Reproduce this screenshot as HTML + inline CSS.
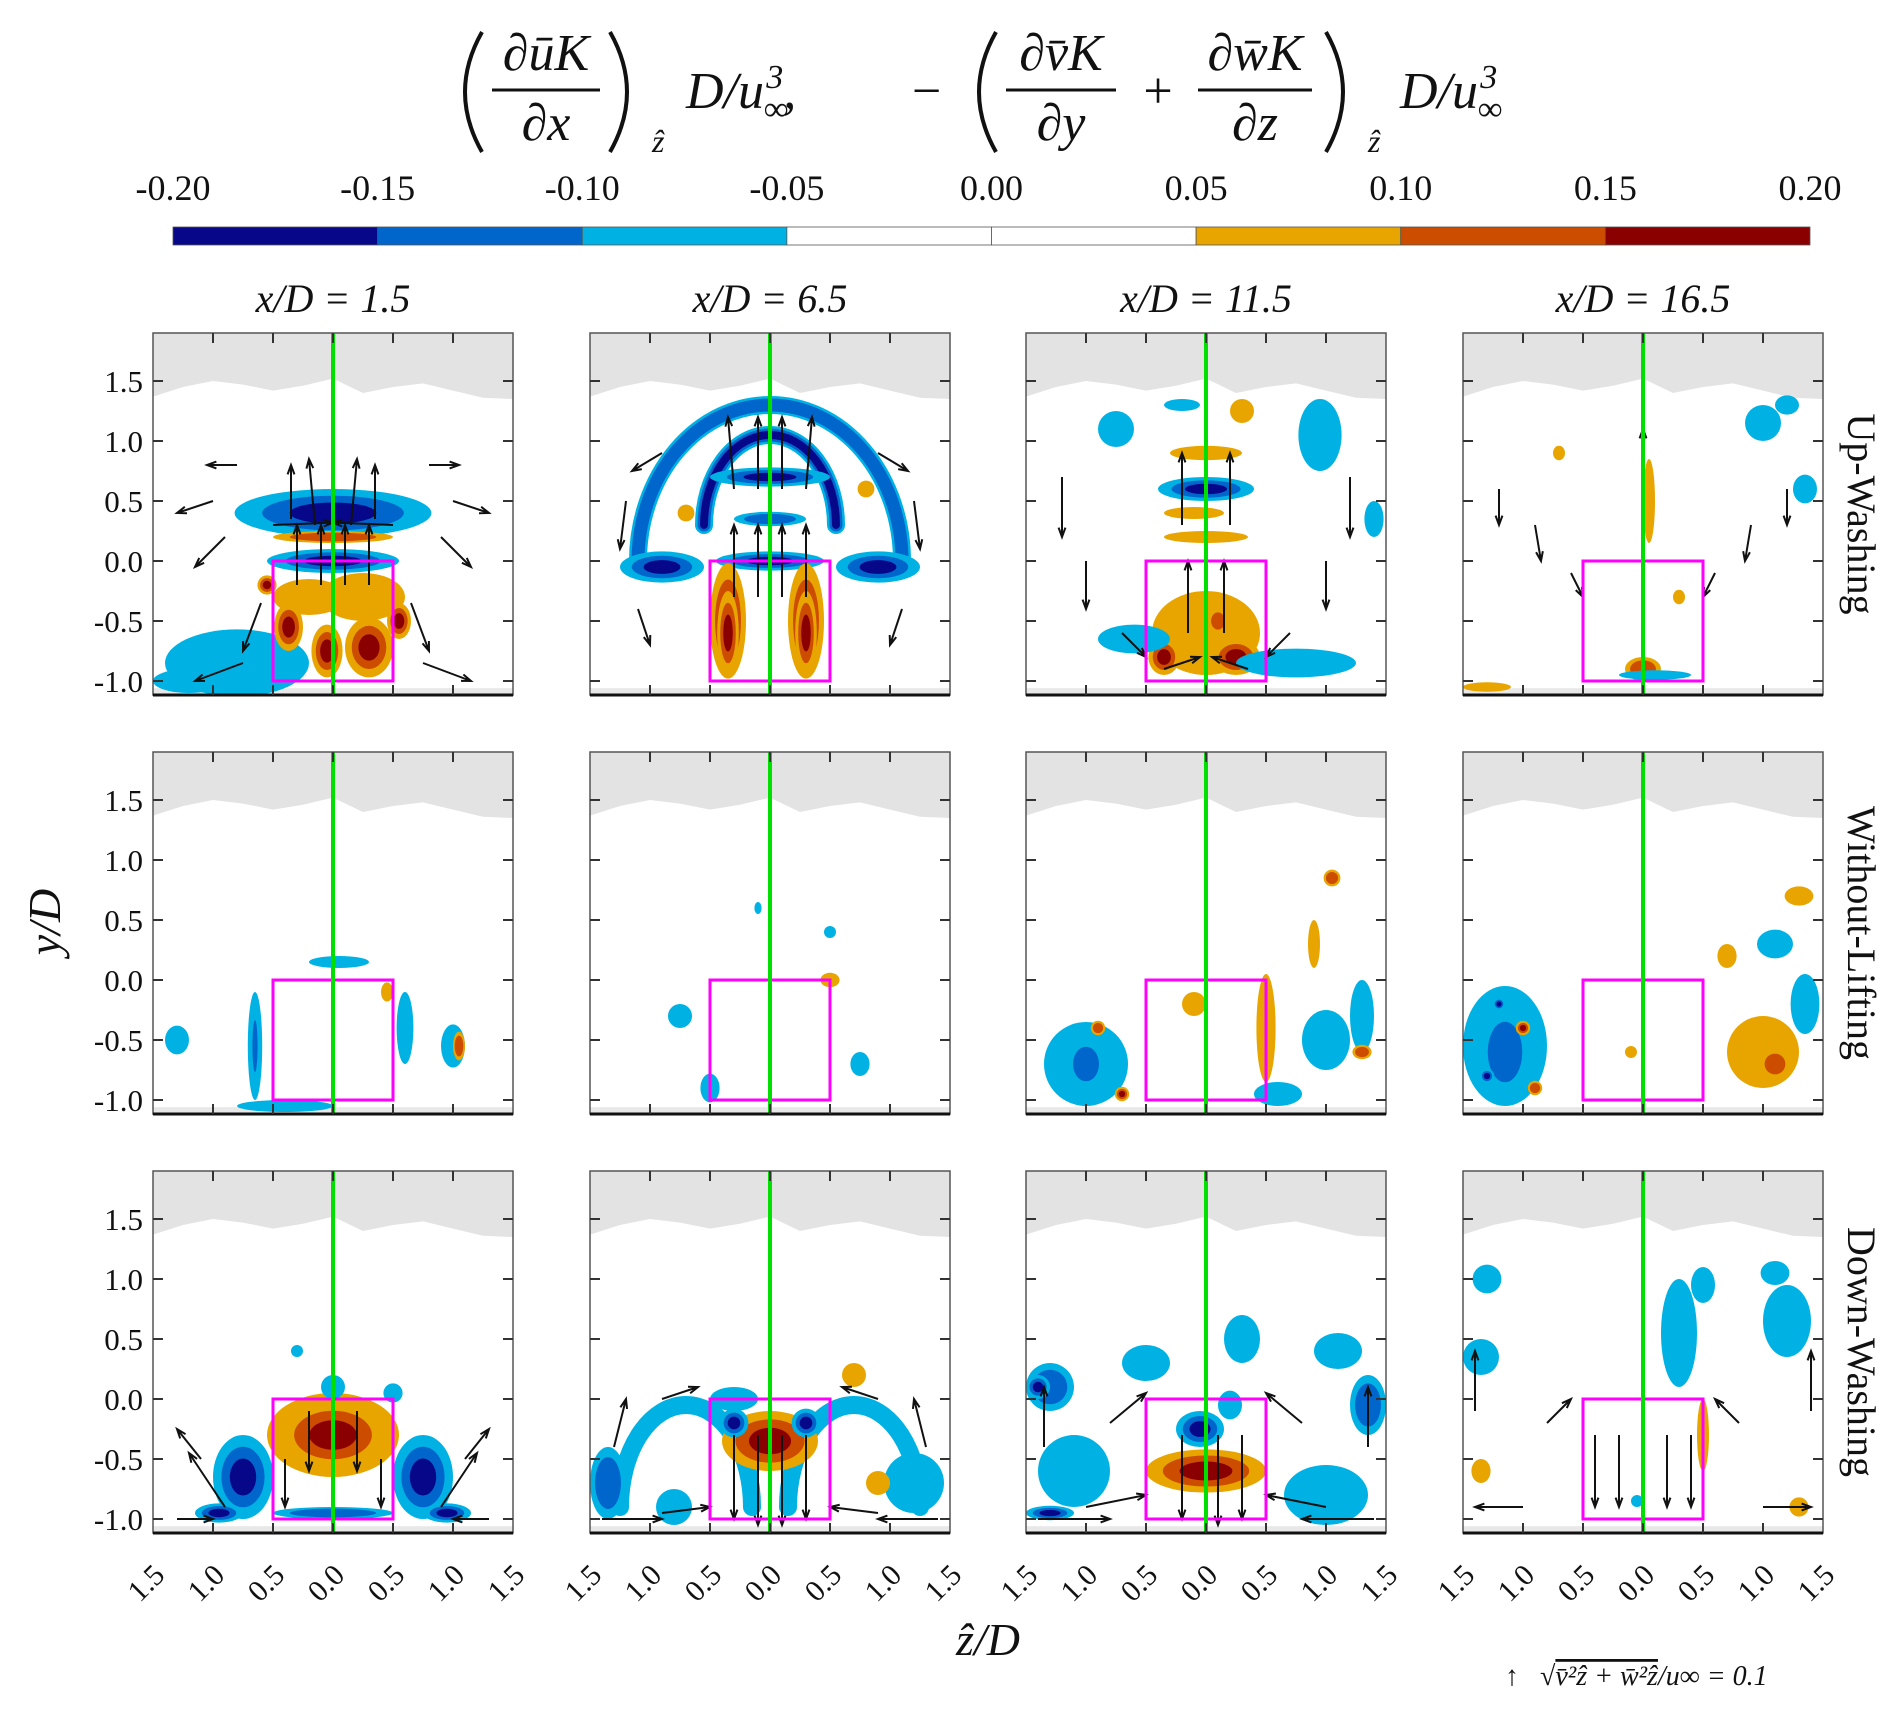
<!DOCTYPE html>
<html><head><meta charset="utf-8"><style>
html,body{margin:0;padding:0;background:#fff;width:1892px;height:1712px;overflow:hidden}
svg{display:block}
text{font-family:"Liberation Serif",serif;fill:#111}
</style></head><body>
<svg id="fig" width="1892" height="1712" viewBox="0 0 1892 1712" xmlns="http://www.w3.org/2000/svg">
<g font-size="52">
 <path d="M482,32 Q448,92 482,152" fill="none" stroke="#111" stroke-width="4"/>
 <text x="546" y="70" text-anchor="middle" font-style="italic">∂ūK</text>
 <line x1="492" y1="90" x2="600" y2="90" stroke="#111" stroke-width="3"/>
 <text x="546" y="140" text-anchor="middle" font-style="italic">∂x</text>
 <path d="M610,32 Q644,92 610,152" fill="none" stroke="#111" stroke-width="4"/>
 <text x="652" y="152" font-size="32" font-style="italic">ẑ</text>
 <text x="686" y="108" font-style="italic">D/u<tspan font-size="34" dy="12">∞</tspan><tspan font-size="34" dx="-22" dy="-32">3</tspan><tspan dy="20">,</tspan></text>
 <text x="912" y="108">−</text>
 <path d="M996,32 Q962,92 996,152" fill="none" stroke="#111" stroke-width="4"/>
 <text x="1061" y="70" text-anchor="middle" font-style="italic">∂v̄K</text>
 <line x1="1006" y1="90" x2="1116" y2="90" stroke="#111" stroke-width="3"/>
 <text x="1061" y="140" text-anchor="middle" font-style="italic">∂y</text>
 <text x="1158" y="108" text-anchor="middle">+</text>
 <text x="1255" y="70" text-anchor="middle" font-style="italic">∂w̄K</text>
 <line x1="1198" y1="90" x2="1312" y2="90" stroke="#111" stroke-width="3"/>
 <text x="1255" y="140" text-anchor="middle" font-style="italic">∂z</text>
 <path d="M1326,32 Q1360,92 1326,152" fill="none" stroke="#111" stroke-width="4"/>
 <text x="1368" y="152" font-size="32" font-style="italic">ẑ</text>
 <text x="1400" y="108" font-style="italic">D/u<tspan font-size="34" dy="12">∞</tspan><tspan font-size="34" dx="-22" dy="-32">3</tspan></text>
</g>
<g id="cbar"></g>
<g id="panels"></g>
<text x="60" y="922" font-size="46" font-style="italic" text-anchor="middle" transform="rotate(-90 60 922)">y/D</text>
<text x="988" y="1655" font-size="46" font-style="italic" text-anchor="middle">ẑ/D</text>
<g font-size="28">
 <text x="1505" y="1685">↑</text>
 <text x="1540" y="1685" font-style="italic">√<tspan text-decoration="overline">v̄²ẑ + w̄²ẑ</tspan>/u∞ = 0.1</text>
</g>
</svg>
<script>
const NS="http://www.w3.org/2000/svg";
const cbTicks=["-0.20","-0.15","-0.10","-0.05","0.00","0.05","0.10","0.15","0.20"];
const cbColors=["#07078a","#0066cc","#00b2e4","#ffffff","#ffffff","#e8a500","#cc4c00","#8a0000"];
const colTitles=["x/D = 1.5","x/D = 6.5","x/D = 11.5","x/D = 16.5"];
const rowTitles=["Up-Washing","Without-Lifting","Down-Washing"];
const yTicks=[1.5,1.0,0.5,0.0,-0.5,-1.0];
const xTicks=[-1.5,-1.0,-0.5,0,0.5,1.0,1.5];
const topEdge=[1.37,1.45,1.5,1.47,1.42,1.46,1.52,1.4,1.45,1.48,1.42,1.36,1.35];
const levelColor={"-3":"#07078a","-2":"#0066cc","-1":"#00b2e4","1":"#e8a500","2":"#cc4c00","3":"#8a0000"};
const feats=[
 [["e",-0.8,-0.85,0.6,0.28,-1],["e",-1.2,-1.0,0.3,0.1,-1],["e",0,0.4,0.82,0.2,-3],["e",0,0.0,0.55,0.1,-3],["e",0,0.2,0.5,0.05,2],
  ["e",-0.2,-0.3,0.3,0.15,1],["e",0.25,-0.3,0.35,0.2,1],["e",-0.37,-0.55,0.12,0.2,3],["e",-0.05,-0.75,0.13,0.22,3],["e",0.3,-0.72,0.2,0.25,3],["e",0.55,-0.5,0.1,0.15,3],["e",-0.55,-0.2,0.08,0.08,3]],
 [["a",0,0.0,1.1,1.3,-2,0.15],["a",0,0.3,0.55,0.75,-3,0.15],["e",0,0.7,0.5,0.08,-3],["e",0,0.35,0.3,0.06,-2],["e",-0.9,-0.05,0.35,0.13,-3],["e",0.9,-0.05,0.35,0.13,-3],
  ["e",0,0.0,0.45,0.08,-3],["e",-0.35,-0.5,0.15,0.48,2],["e",0.3,-0.5,0.15,0.48,2],["e",-0.35,-0.6,0.09,0.35,3],["e",0.3,-0.6,0.09,0.35,3],["e",0.8,0.6,0.07,0.07,1],["e",-0.7,0.4,0.07,0.07,1]],
 [["e",0,0.6,0.4,0.1,-3],["e",0,0.2,0.35,0.05,1],["e",-0.1,0.4,0.25,0.05,1],["e",0,-0.6,0.45,0.35,1],["e",-0.35,-0.8,0.13,0.15,3],["e",0.25,-0.8,0.2,0.15,3],["e",0.1,-0.5,0.08,0.1,2],
  ["e",-0.6,-0.65,0.3,0.12,-1],["e",0.75,-0.85,0.5,0.12,-1],["e",0.95,1.05,0.18,0.3,-1],["e",-0.75,1.1,0.15,0.15,-1],["e",1.4,0.35,0.08,0.15,-1],["e",0.3,1.25,0.1,0.1,1],["e",-0.2,1.3,0.15,0.05,-1],["e",0.0,0.9,0.3,0.06,1]],
 [["e",1.0,1.15,0.15,0.15,-1],["e",1.35,0.6,0.1,0.12,-1],["e",1.2,1.3,0.1,0.08,-1],["e",0.05,0.5,0.05,0.35,1],["e",-0.7,0.9,0.05,0.06,1],["e",0.3,-0.3,0.05,0.06,1],["e",0,-0.9,0.15,0.1,2],["e",0.1,-0.95,0.3,0.04,-1],["e",-1.3,-1.05,0.2,0.04,1]],
 [["e",-0.65,-0.55,0.06,0.45,-1],["e",-0.65,-0.55,0.03,0.3,-2],["e",0.6,-0.4,0.07,0.3,-1],["e",0.05,0.15,0.25,0.05,-1],["e",1.0,-0.55,0.1,0.18,-1],["e",1.05,-0.55,0.05,0.12,2],["e",-1.3,-0.5,0.1,0.12,-1],["e",-0.4,-1.05,0.4,0.05,-1],["e",0.45,-0.1,0.05,0.08,1]],
 [["e",-0.75,-0.3,0.1,0.1,-1],["e",-0.5,-0.9,0.08,0.12,-1],["e",0.75,-0.7,0.08,0.1,-1],["e",0.5,0.0,0.08,0.06,1],["e",-0.1,0.6,0.03,0.05,-1],["e",0.5,0.4,0.05,0.05,-1]],
 [["e",-1.0,-0.7,0.35,0.35,-1],["e",-1.0,-0.7,0.15,0.2,-2],["e",-0.9,-0.4,0.06,0.06,2],["e",-0.7,-0.95,0.06,0.06,3],["e",0.5,-0.4,0.08,0.45,1],["e",-0.1,-0.2,0.1,0.1,1],
  ["e",1.0,-0.5,0.2,0.25,-1],["e",1.3,-0.3,0.1,0.3,-1],["e",0.9,0.3,0.05,0.2,1],["e",1.05,0.85,0.07,0.07,2],["e",0.6,-0.95,0.2,0.1,-1],["e",1.3,-0.6,0.08,0.06,2]],
 [["e",-1.15,-0.55,0.35,0.5,-1],["e",-1.15,-0.6,0.2,0.35,-2],["e",-1.0,-0.4,0.06,0.06,3],["e",-1.3,-0.8,0.06,0.06,-3],["e",-0.9,-0.9,0.06,0.06,2],["e",-1.2,-0.2,0.05,0.05,-3],
  ["e",1.0,-0.6,0.3,0.3,1],["e",1.1,-0.7,0.12,0.12,2],["e",1.35,-0.2,0.12,0.25,-1],["e",1.1,0.3,0.15,0.12,-1],["e",1.3,0.7,0.12,0.08,1],["e",0.7,0.2,0.08,0.1,1],["e",-0.1,-0.6,0.05,0.05,1]],
 [["e",0,-0.3,0.55,0.35,1],["e",0,-0.3,0.45,0.28,3],["e",-0.75,-0.65,0.25,0.35,-3],["e",0.75,-0.65,0.25,0.35,-3],["e",-0.95,-0.95,0.2,0.08,-3],["e",0.95,-0.95,0.2,0.08,-3],
  ["e",0,0.1,0.1,0.1,-1],["e",0,-0.95,0.5,0.05,-2],["e",-0.3,0.4,0.05,0.05,-1],["e",0.5,0.05,0.08,0.08,-1]],
 [["a",-0.7,-0.9,0.55,0.85,-1,0.15],["a",0.7,-0.9,0.55,0.85,-1,0.15],["e",0,-0.35,0.4,0.25,3],["e",-0.3,-0.2,0.12,0.12,-3],["e",0.3,-0.2,0.12,0.12,-3],["e",-1.35,-0.7,0.15,0.3,-2],
  ["e",1.2,-0.7,0.25,0.25,-1],["e",-0.8,-0.9,0.15,0.15,-1],["e",0.7,0.2,0.1,0.1,1],["e",0.9,-0.7,0.1,0.1,1],["e",-0.3,0.0,0.2,0.1,-1]],
 [["e",0,-0.6,0.5,0.18,3],["e",-0.05,-0.25,0.2,0.15,-3],["e",0.2,-0.05,0.1,0.12,-1],["e",-1.3,0.1,0.2,0.2,-2],["e",-1.4,0.1,0.1,0.1,-3],["e",1.35,-0.05,0.15,0.25,-2],
  ["e",-1.1,-0.6,0.3,0.3,-1],["e",1.0,-0.8,0.35,0.25,-1],["e",0.3,0.5,0.15,0.2,-1],["e",1.1,0.4,0.2,0.15,-1],["e",-0.5,0.3,0.2,0.15,-1],["e",-1.3,-0.95,0.2,0.06,-3]],
 [["e",0.3,0.55,0.15,0.45,-1],["e",0.5,0.95,0.1,0.15,-1],["e",1.2,0.65,0.2,0.3,-1],["e",1.1,1.05,0.12,0.1,-1],["e",-1.35,0.35,0.15,0.15,-1],["e",-1.3,1.0,0.12,0.12,-1],
  ["e",0.5,-0.3,0.05,0.3,1],["e",-1.35,-0.6,0.08,0.1,1],["e",1.3,-0.9,0.08,0.08,1],["e",-0.05,-0.85,0.05,0.05,-1]]
];
const arrows=[
 [[-0.35,0.35,0,0.45],[-0.15,0.3,-0.05,0.55],[0.15,0.3,0.05,0.55],[0.35,0.35,0,0.45],[-0.3,-0.2,0,0.5],[-0.1,-0.2,0,0.5],[0.1,-0.2,0,0.5],[0.3,-0.2,0,0.5],
  [-0.6,-0.35,-0.15,-0.4],[0.65,-0.35,0.15,-0.4],[-0.75,-0.85,-0.4,-0.15],[0.75,-0.85,0.4,-0.15],[-1.0,0.5,-0.3,-0.1],[1.0,0.5,0.3,-0.1],[-0.9,0.2,-0.25,-0.25],[0.9,0.2,0.25,-0.25],[-0.8,0.8,-0.25,0],[0.8,0.8,0.25,0],[-0.5,0.3,0.5,0.02],[0.5,0.3,-0.5,0.02]],
 [[-0.3,0.6,-0.05,0.6],[-0.1,0.6,0,0.6],[0.1,0.6,0,0.6],[0.3,0.6,0.05,0.6],[-0.3,-0.3,0,0.6],[0.3,-0.3,0,0.6],[-0.1,-0.3,0,0.6],[0.1,-0.3,0,0.6],[-1.2,0.5,-0.05,-0.4],[1.2,0.5,0.05,-0.4],[-1.1,-0.4,0.1,-0.3],[1.1,-0.4,-0.1,-0.3],[-0.9,0.9,-0.25,-0.15],[0.9,0.9,0.25,-0.15]],
 [[-0.2,0.3,0,0.6],[0.2,0.3,0,0.6],[-0.15,-0.6,0,0.6],[0.15,-0.6,0,0.6],[-1.2,0.7,0,-0.5],[1.2,0.7,0,-0.5],[-1.0,0.0,0,-0.4],[1.0,0.0,0,-0.4],[-0.7,-0.6,0.2,-0.2],[0.7,-0.6,-0.2,-0.2],[-0.35,-0.9,0.3,0.1],[0.35,-0.9,-0.3,0.1]],
 [[-1.2,0.6,0,-0.3],[1.2,0.6,0,-0.3],[-0.9,0.3,0.05,-0.3],[0.9,0.3,-0.05,-0.3],[-0.6,-0.1,0.1,-0.2],[0.6,-0.1,-0.1,-0.2],[0,0.8,0,0.3]],
 [],[],[],[],
 [[-0.9,-0.9,-0.3,0.45],[0.9,-0.9,0.3,0.45],[-1.1,-0.5,-0.2,0.25],[1.1,-0.5,0.2,0.25],[-0.2,-0.1,0,-0.5],[0.2,-0.1,0,-0.5],[-0.4,-0.5,0,-0.4],[0.4,-0.5,0,-0.4],[-1.3,-1.0,0.3,0],[1.3,-1.0,-0.3,0]],
 [[-0.3,-0.3,0,-0.7],[-0.1,-0.3,0,-0.75],[0.1,-0.3,0,-0.75],[0.3,-0.3,0,-0.7],[-1.4,-1.0,0.5,0],[1.4,-1.0,-0.5,0],[-0.9,-0.95,0.4,0.05],[0.9,-0.95,-0.4,0.05],[-0.9,0.0,0.3,0.1],[0.9,0.0,-0.3,0.1],[-1.3,-0.4,0.1,0.4],[1.3,-0.4,-0.1,0.4]],
 [[-0.2,-0.3,0,-0.7],[0.1,-0.3,0,-0.75],[0.3,-0.3,0,-0.7],[-1.4,-1.0,0.6,0],[1.4,-1.0,-0.6,0],[-1.35,-0.4,0,0.5],[1.35,-0.4,0,0.5],[-0.8,-0.2,0.3,0.25],[0.8,-0.2,-0.3,0.25],[-1.0,-0.9,0.5,0.1],[1.0,-0.9,-0.5,0.1]],
 [[-0.4,-0.3,0,-0.6],[-0.2,-0.3,0,-0.6],[0.2,-0.3,0,-0.6],[0.4,-0.3,0,-0.6],[-1.4,-0.1,0,0.5],[1.4,-0.1,0,0.5],[-1.0,-0.9,-0.4,0],[1.0,-0.9,0.4,0],[-0.8,-0.2,0.2,0.2],[0.8,-0.2,-0.2,0.2]]
];
const svg=document.getElementById("fig");
function mk(tag,attrs,parent){const e=document.createElementNS(NS,tag);for(const k in attrs)e.setAttribute(k,attrs[k]);parent.appendChild(e);return e;}
const cb=document.getElementById("cbar");
const cbX0=173,cbX1=1810,cbY=227,cbH=18;
const cbW=(cbX1-cbX0)/cbColors.length;
cbColors.forEach((c,i)=>{const r=mk("rect",{x:cbX0+i*cbW,y:cbY,width:cbW,height:cbH,fill:c,stroke:"#555","stroke-width":0.8},cb);

});
cbTicks.forEach((t,i)=>{const tx=mk("text",{x:cbX0+i*(cbX1-cbX0)/(cbTicks.length-1),y:200,"font-size":36,"text-anchor":"middle"},cb);tx.textContent=t;

});
const lefts=[153,590,1026,1463],tops=[333,752,1171],PW=360,PH=362;
const panelsG=document.getElementById("panels");
colTitles.forEach((t,i)=>{const tx=mk("text",{x:lefts[i]+PW/2,y:312,"font-size":40,"font-style":"italic","text-anchor":"middle"},panelsG);tx.textContent=t;

});
rowTitles.forEach((t,r)=>{const cy=tops[r]+PH/2;const tx=mk("text",{x:1848,y:cy,"font-size":40,"text-anchor":"middle",transform:`rotate(90 1848 ${cy})`},panelsG);tx.textContent=t;

});
for(let r=0;r<3;r++)for(let c=0;c<4;c++){
 const L=lefts[c],T=tops[r],idx=r*4+c;
 const X=x=>L+(x+1.5)*120, Y=y=>T+(1.9-y)*120;
 const g=mk("g",{},panelsG);
 
 
 const cid="clip"+idx;
 const cp=mk("clipPath",{id:cid},g);mk("rect",{x:L,y:T,width:PW,height:PH},cp);
 const inner=mk("g",{"clip-path":`url(#${cid})`},g);
 mk("rect",{x:L,y:T,width:PW,height:PH,fill:"#fff"},inner);
 let d=`M${L},${T} `;topEdge.forEach((v,i)=>{d+=`L${X(-1.5+i*0.25)},${Y(v)} `;});d+=`L${L+PW},${T} Z`;
 const gp=mk("path",{d:d,fill:"#e3e3e3"},inner);
 
 
 mk("rect",{x:L,y:Y(-1.06),width:PW,height:T+PH-Y(-1.06),fill:"#e8e8e8"},inner);
 feats[idx].forEach(f=>{
  const lv=f[5],n=Math.abs(lv),s=Math.sign(lv);
  for(let k=1;k<=n;k++){
   const col=levelColor[String(s*k)];
   const sh=1-0.28*(k-1);
   let el;
   if(f[0]==="e"){
    el=mk("ellipse",{cx:X(f[1]),cy:Y(f[2]),rx:f[3]*120*sh,ry:f[4]*120*sh,fill:col},inner);
   }else{
    const rx=f[3]*120,ry=f[4]*120,cx=X(f[1]),cy=Y(f[2]);
    el=mk("path",{d:`M${cx-rx},${cy} A${rx},${ry} 0 0 1 ${cx+rx},${cy}`,fill:"none",stroke:col,"stroke-width":f[6]*120*sh,"stroke-linecap":"round"},inner);
   }
   
   
  }
 });
 arrows[idx].forEach(a=>{
  const x1=X(a[0]),y1=Y(a[1]),x2=X(a[0]+a[2]),y2=Y(a[1]+a[3]);
  const ang=Math.atan2(y2-y1,x2-x1),h=10;
  const ar=mk("path",{d:`M${x1},${y1} L${x2},${y2} M${x2-h*Math.cos(ang-0.35)},${y2-h*Math.sin(ang-0.35)} L${x2},${y2} L${x2-h*Math.cos(ang+0.35)},${y2-h*Math.sin(ang+0.35)}`,stroke:"#111","stroke-width":2,fill:"none"},inner);
  
  
 });
 const bx=mk("rect",{x:X(-0.5),y:Y(0),width:120,height:120,fill:"none",stroke:"#ff00ff","stroke-width":3},inner);
 
 
 const gl=mk("line",{x1:X(0),x2:X(0),y1:T,y2:T+PH,stroke:"#00e000","stroke-width":4},inner);
 
 
 mk("rect",{x:L,y:T,width:PW,height:PH,fill:"none",stroke:"#555","stroke-width":1.5},g);
 mk("line",{x1:L,x2:L+PW,y1:T+PH,y2:T+PH,stroke:"#111","stroke-width":3},g);
 yTicks.forEach(v=>{mk("line",{x1:L,x2:L+10,y1:Y(v),y2:Y(v),stroke:"#333","stroke-width":2},g);mk("line",{x1:L+PW-10,x2:L+PW,y1:Y(v),y2:Y(v),stroke:"#333","stroke-width":2},g);
  if(c===0){const tx=mk("text",{x:143,y:Y(v)+11,"font-size":31,"text-anchor":"end"},g);tx.textContent=v.toFixed(1);
   
   }});
 xTicks.forEach(v=>{if(Math.abs(v)<1.5){mk("line",{x1:X(v),x2:X(v),y1:T,y2:T+10,stroke:"#333","stroke-width":2},g);mk("line",{x1:X(v),x2:X(v),y1:T+PH-10,y2:T+PH,stroke:"#333","stroke-width":2},g);}
  if(r===2){const tx=X(v),ty=1590;const t=mk("text",{x:tx,y:ty,"font-size":30,"text-anchor":"middle",transform:`rotate(-45 ${tx} ${ty})`},g);t.textContent=Math.abs(v).toFixed(1);
   
   }});
}
</script>
</body></html>
